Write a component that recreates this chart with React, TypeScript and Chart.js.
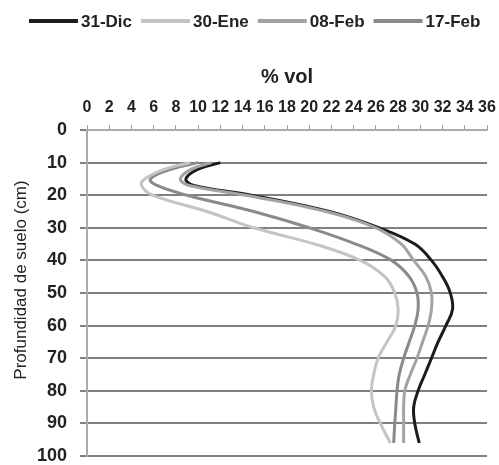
import React, { useEffect, useRef } from "react";
import { Chart, registerables } from "chart.js";

Chart.register(...registerables);

// Depth (cm) at which each profile value was read
const depths = [10, 12, 15, 17, 20, 25, 30, 35, 40, 45, 50, 55, 60, 65, 70, 75, 80, 85, 90, 96];
const seriesLabels = ["31-Dic", "30-Ene", "08-Feb", "17-Feb"];
// % vol values per date
const dic31 = [12.0, 10.0, 8.9, 9.6, 14.8, 21.8, 26.3, 29.5, 31.0, 32.0, 32.7, 32.9, 32.3, 31.6, 31.0, 30.4, 29.8, 29.4, 29.5, 29.9];
const ene30 = [9.3, 7.0, 5.2, 4.9, 5.9, 10.8, 15.0, 20.5, 24.6, 26.8, 27.7, 28.0, 27.8, 27.0, 26.2, 25.8, 25.6, 25.8, 26.4, 27.3];
const feb08 = [11.2, 9.4, 8.4, 9.2, 14.3, 21.5, 26.0, 28.3, 29.4, 30.5, 31.0, 31.0, 30.7, 30.2, 29.7, 29.1, 28.6, 28.5, 28.5, 28.5];
const feb17 = [10.0, 7.6, 5.7, 6.3, 9.0, 15.0, 20.0, 24.2, 27.4, 29.0, 29.7, 29.8, 29.5, 29.0, 28.5, 28.1, 27.9, 27.8, 27.7, 27.6];
const seriesColors = ["#1c1c1c", "#c4c4c4", "#a3a3a3", "#8a8a8a"];
const xTitle = "% vol";
const yTitle = "Profundidad de suelo (cm)";

const FONT = '"Liberation Sans", Arial, sans-serif';

const textPlugin = {
  id: "customTexts",
  afterDraw(chart: any) {
    const ctx = chart.ctx as CanvasRenderingContext2D;
    ctx.save();
    // legend
    ctx.font = `bold 17px ${FONT}`;
    ctx.textBaseline = "middle";
    ctx.textAlign = "left";
    let x = 29;
    const y = 21;
    chart.data.datasets.forEach((ds: any) => {
      ctx.strokeStyle = ds.borderColor;
      ctx.lineWidth = 4;
      ctx.beginPath();
      ctx.moveTo(x, y);
      ctx.lineTo(x + 49, y);
      ctx.stroke();
      x += 52;
      ctx.fillStyle = "#222";
      ctx.fillText(ds.label, x, y + 1);
      x += ctx.measureText(ds.label).width + 9;
    });
    // x title
    const area = chart.chartArea;
    ctx.font = `bold 20px ${FONT}`;
    ctx.textAlign = "center";
    ctx.fillStyle = "#222";
    ctx.fillText(xTitle, (area.left + area.right) / 2, 77);
    // y title
    ctx.translate(21, 280);
    ctx.rotate(-Math.PI / 2);
    ctx.font = `17px ${FONT}`;
    ctx.fillText(yTitle, 0, 0);
    ctx.restore();
  },
};

export default function App() {
  const ref = useRef<HTMLCanvasElement | null>(null);
  useEffect(() => {
    if (!ref.current) return;
    const mk = (vals: number[]) => vals.map((v, i) => ({ x: v, y: depths[i] }));
    const data = [dic31, ene30, feb08, feb17];
    const chart = new Chart(ref.current, {
      type: "line",
      data: {
        datasets: seriesLabels.map((label, i) => ({
          label,
          data: mk(data[i]),
          borderColor: seriesColors[i],
          backgroundColor: seriesColors[i],
          borderWidth: 3,
          pointRadius: 0,
          tension: 0.4,
          fill: false,
          order: i === 2 ? 0 : 1,
        })),
      },
      options: {
        animation: false,
        responsive: false,
        maintainAspectRatio: false,
        layout: { padding: { left: 0, top: 0, right: 12, bottom: 9 } },
        plugins: { legend: { display: false }, tooltip: { enabled: false } },
        scales: {
          x: {
            type: "linear",
            position: "top",
            min: 0,
            max: 36,
            ticks: { stepSize: 2, color: "#222", font: { family: FONT, size: 16, weight: "bold" }, padding: 8, maxRotation: 0, autoSkip: false },
            grid: { drawOnChartArea: false, drawTicks: true, tickLength: 5, color: "#999", lineWidth: 1 },
            border: { color: "#aaa", width: 2 },
            afterFit: (s: any) => { s.height = 130; s.paddingLeft = 0; s.paddingRight = 0; },
          },
          y: {
            type: "linear",
            reverse: true,
            min: 0,
            max: 100,
            ticks: { stepSize: 10, color: "#222", font: { family: FONT, size: 18, weight: "bold" }, padding: 13 },
            grid: { color: "#808080", lineWidth: 2, tickLength: 7 },
            border: { color: "#aaa", width: 2 },
            afterFit: (s: any) => { s.width = 87; s.paddingTop = 0; s.paddingBottom = 0; },
          },
        },
      },
      plugins: [textPlugin],
    } as any);
    return () => chart.destroy();
  }, []);
  return (
    <div style={{ position: "absolute", left: 0, top: 0, width: 499, height: 465, background: "#fff" }}>
      <canvas ref={ref} width={499} height={465} style={{ display: "block" }} />
    </div>
  );
}
